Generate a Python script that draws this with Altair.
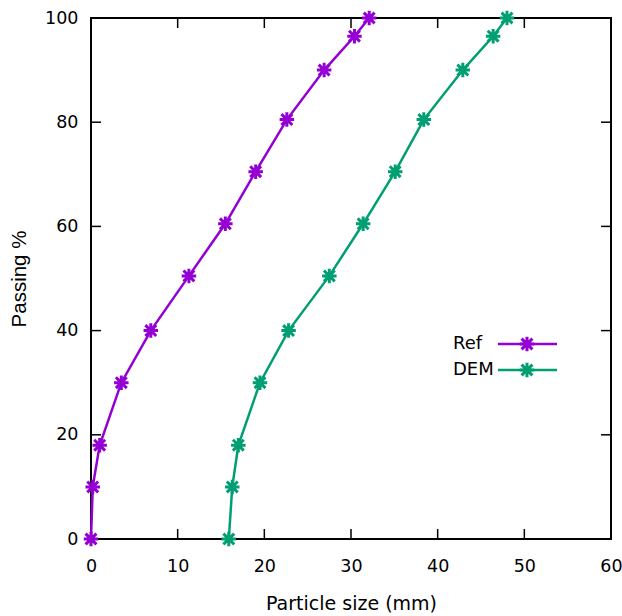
import altair as alt
import pandas as pd

# passing percentages (shared by both curves)
passing = [0, 10, 18, 30, 40, 50.5, 60.5, 70.5, 80.5, 90, 96.5, 100]
ref_size = [0.0, 0.2, 1.0, 3.5, 6.9, 11.3, 15.5, 19.0, 22.6, 26.9, 30.4, 32.1]
dem_size = [15.9, 16.3, 17.0, 19.5, 22.8, 27.5, 31.4, 35.1, 38.4, 42.9, 46.4, 48.0]
series = ["Ref", "DEM"]
colors = ["#9400D3", "#009E73"]
x_ticks = [0, 10, 20, 30, 40, 50, 60]
y_ticks = [0, 20, 40, 60, 80, 100]

rows = []
for s, sizes in zip(series, [ref_size, dem_size]):
    for i, (xv, yv) in enumerate(zip(sizes, passing)):
        rows.append({"series": s, "size": xv, "passing": yv, "order": i})
df = pd.DataFrame(rows)

W, H = 520, 521
ASTER = "M0,-1V1M-1,0H1M-0.75,-0.75L0.75,0.75M-0.75,0.75L0.75,-0.75"
MSIZE = 210
MSTROKE = 3

xscale = alt.Scale(domain=[0, 60], nice=False, zero=False)
yscale = alt.Scale(domain=[0, 100], nice=False, zero=False)
color = alt.Color("series:N", scale=alt.Scale(domain=series, range=colors), legend=None)

xax = alt.X("size:Q", scale=xscale, axis=alt.Axis(
    values=x_ticks, title="Particle size (mm)", ticks=False, domain=False, grid=False,
    labelFlush=False, labelOverlap=False,
    labelFont="DejaVu Sans", labelFontSize=17.5, labelColor="black", labelPadding=18,
    titleFont="DejaVu Sans", titleFontSize=19, titleFontWeight="normal", titleColor="black",
    titlePadding=20))
yax = alt.Y("passing:Q", scale=yscale, axis=alt.Axis(
    values=y_ticks, title="Passing %", ticks=False, domain=False, grid=False,
    labelFlush=False, labelOverlap=False,
    labelFont="DejaVu Sans", labelFontSize=17.5, labelColor="black", labelPadding=13,
    titleFont="Liberation Sans", titleFontSize=20.5, titleFontWeight="normal", titleColor="black",
    titlePadding=15))

base = alt.Chart(df)
lines = base.mark_line(strokeWidth=2.5).encode(x=xax, y=yax, color=color, order="order:Q")
points = base.mark_point(shape=ASTER, size=MSIZE, strokeWidth=MSTROKE, filled=False, opacity=1).encode(
    x=xax, y=yax, color=color)

xt = alt.Chart(pd.DataFrame({"t": x_ticks}))
yt = alt.Chart(pd.DataFrame({"t": y_ticks}))
tick_style = dict(color="black", strokeWidth=1.5)
xb = xt.mark_rule(**tick_style).encode(x=alt.X("t:Q", scale=xscale), y=alt.value(H), y2=alt.value(H - 10))
xtop = xt.mark_rule(**tick_style).encode(x=alt.X("t:Q", scale=xscale), y=alt.value(0), y2=alt.value(10))
yl = yt.mark_rule(**tick_style).encode(y=alt.Y("t:Q", scale=yscale), x=alt.value(0), x2=alt.value(10))
yr = yt.mark_rule(**tick_style).encode(y=alt.Y("t:Q", scale=yscale), x=alt.value(W), x2=alt.value(W - 10))

# key (label left, sample right, gnuplot style)
key_layers = []
one = alt.Chart(pd.DataFrame({"k": [0]}))
for i, (s, c) in enumerate(zip(series, colors)):
    ky = 326 + 26 * i
    key_layers.append(one.mark_text(align="left", baseline="middle", font="DejaVu Sans",
                                    fontSize=18, color="black", text=s)
                      .encode(x=alt.value(362), y=alt.value(ky)))
    key_layers.append(one.mark_rule(color=c, strokeWidth=2.5)
                      .encode(x=alt.value(407), x2=alt.value(466), y=alt.value(ky)))
    key_layers.append(one.mark_point(shape=ASTER, size=MSIZE, strokeWidth=MSTROKE, filled=False,
                                     opacity=1, color=c)
                      .encode(x=alt.value(436), y=alt.value(ky)))

chart = alt.layer(xb, xtop, yl, yr, lines, points, *key_layers).properties(
    width=W, height=H,
    autosize=alt.AutoSizeParams(type="none"),
    padding={"left": 91, "top": 18, "right": 11, "bottom": 77},
    background="white",
).configure_view(stroke="black", strokeWidth=2)

chart.save("out.html", embed_options={"renderer": "svg", "actions": False})
